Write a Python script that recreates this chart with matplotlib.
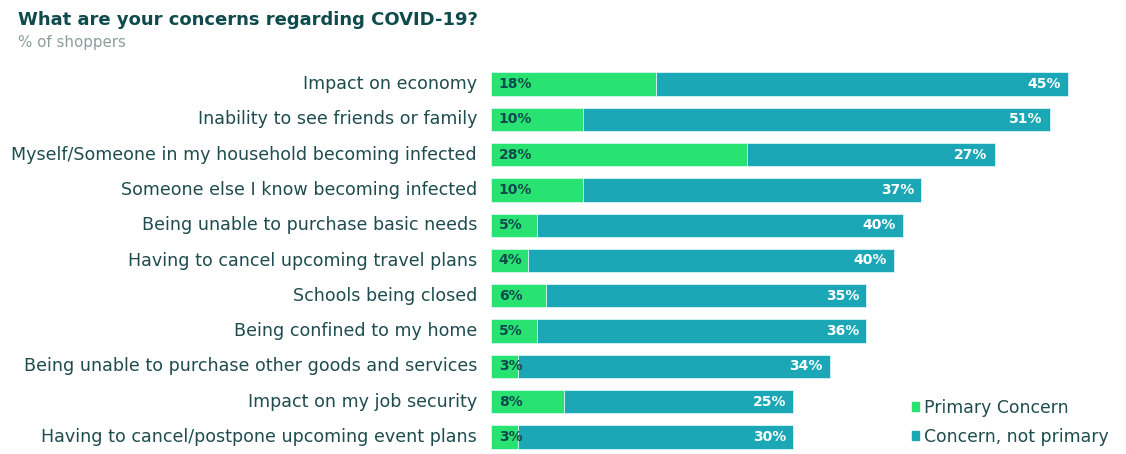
import matplotlib
matplotlib.use("Agg")
import matplotlib.pyplot as plt
from matplotlib.patches import Patch

# --- palette ---
GREEN = "#28e272"
TEAL = "#1ca7b7"
DARK = "#0f4a4c"
LABEL = "#1f4c4e"
GREY = "#8c9c9d"

categories = [
    "Impact on economy",
    "Inability to see friends or family",
    "Myself/Someone in my household becoming infected",
    "Someone else I know becoming infected",
    "Being unable to purchase basic needs",
    "Having to cancel upcoming travel plans",
    "Schools being closed",
    "Being confined to my home",
    "Being unable to purchase other goods and services",
    "Impact on my job security",
    "Having to cancel/postpone upcoming event plans",
]
primary = [18, 10, 28, 10, 5, 4, 6, 5, 3, 8, 3]
not_primary = [45, 51, 27, 37, 40, 40, 35, 36, 34, 25, 30]

plt.rcParams["font.family"] = ["DejaVu Sans"]

W, H = 1126, 454
fig = plt.figure(figsize=(W / 100, H / 100), dpi=100)
fig.patch.set_facecolor("white")

fig.text(18 / W, 1 - 11 / H, "What are your concerns regarding COVID-19?",
         fontsize=13, fontweight="bold", color=DARK, va="top", ha="left")
fig.text(18 / W, 1 - 35 / H, "% of shoppers", fontsize=10.8, color=GREY, va="top", ha="left")

step = 35.3
ax_h = step * len(categories)
top = 84 - step / 2
ax = fig.add_axes([491 / W, (H - top - ax_h) / H, 641 / W, ax_h / H])

y = list(range(len(categories)))
ax.barh(y, primary, height=0.66, color=GREEN, edgecolor="#d8f5f5", linewidth=0.6)
ax.barh(y, not_primary, left=primary, height=0.66, color=TEAL, edgecolor="#d8f5f5", linewidth=0.6)

for i, (p, n) in enumerate(zip(primary, not_primary)):
    ax.annotate(f"{p}%", (0, i), xytext=(5.5, 0), textcoords="offset points",
                ha="left", va="center", fontsize=10, fontweight="bold", color=DARK)
    ax.annotate(f"{n}%", (p + n, i), xytext=(-5, 0), textcoords="offset points",
                ha="right", va="center", fontsize=10, fontweight="bold", color="white")

ax.set_xlim(0, 70)
ax.set_ylim(len(categories) - 0.5, -0.5)
ax.set_yticks(y)
ax.set_yticklabels(categories, fontsize=12.6, color=LABEL, va="center")
ax.tick_params(axis="y", length=0, pad=10)
ax.set_xticks([])
for s in ax.spines.values():
    s.set_visible(False)

handles = [Patch(color=GREEN, label="Primary Concern"),
           Patch(color=TEAL, label="Concern, not primary")]
fig.legend(handles=handles, loc="lower left", bbox_to_anchor=(896 / W, -7 / H),
           frameon=False, fontsize=12.4, labelcolor=LABEL,
           handlelength=0.45, handleheight=0.45, handletextpad=0.25, labelspacing=0.62)

fig.savefig("out.png", dpi=100)
